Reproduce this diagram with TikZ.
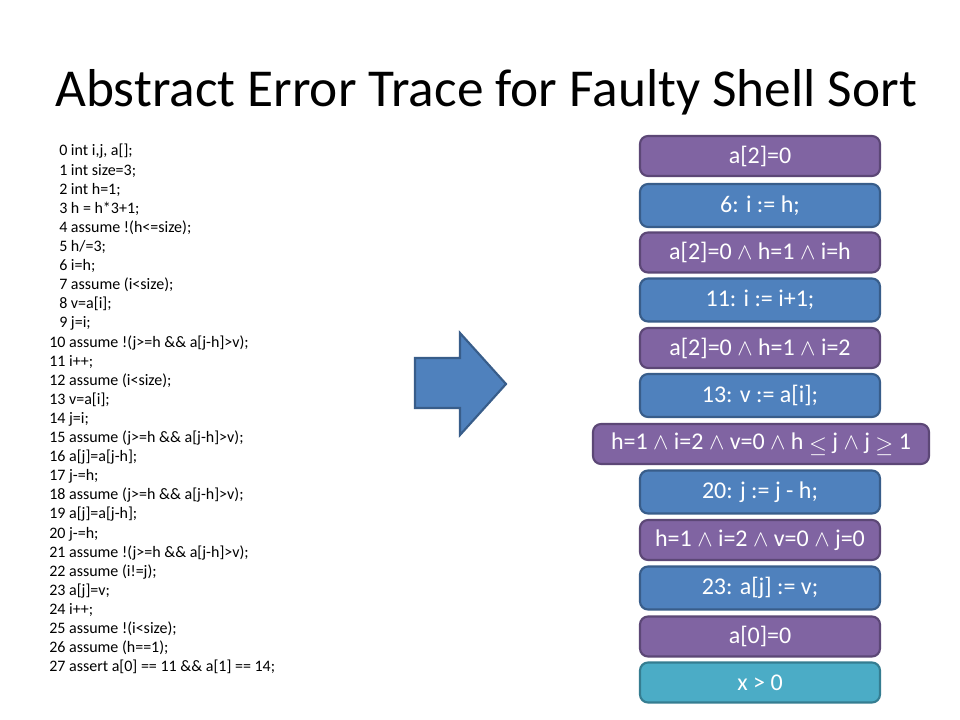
\documentclass[tikz,border=0pt]{standalone}
\usepackage{fontspec}
\setmainfont{Carlito}
\definecolor{purpleF}{HTML}{8064A2}
\definecolor{purpleD}{HTML}{5C4776}
\definecolor{blueF}{HTML}{4F81BD}
\definecolor{blueD}{HTML}{385D8A}
\definecolor{tealF}{HTML}{4BACC6}
\definecolor{tealD}{HTML}{357D91}
\newcommand{\aand}{\ensuremath{\wedge}}
\begin{document}
\begin{tikzpicture}[x=0.75pt,y=-0.75pt,
  codeline/.style={anchor=base west,inner sep=0pt,font=\fontsize{12}{14}\selectfont},
  tracebox/.style={rounded corners=6pt,line width=1.6pt,text=white,
    font=\fontsize{18}{21}\selectfont,minimum width=180pt,inner sep=0pt},
  pbox/.style={tracebox,fill=purpleF,draw=purpleD,minimum height=30pt},
  bbox/.style={tracebox,fill=blueF,draw=blueD,minimum height=32.25pt},
  tbox/.style={tracebox,fill=tealF,draw=tealD,minimum height=30pt}]
\useasboundingbox (0,0) rectangle (960,720);
\fill[white] (0,0) rectangle (960,720);
% title
\node[anchor=base west,inner sep=0pt,font=\fontsize{40}{48}\selectfont] (title) at (55,107) {Abstract Error Trace for Faulty Shell Sort};
% code
\node[codeline] (c0) at (59,156.0) {0 int i,j, a[];};
\node[codeline] (c1) at (59,175.1) {1 int size=3;};
\node[codeline] (c2) at (59,194.2) {2 int h=1;};
\node[codeline] (c3) at (59,213.3) {3 h = h*3+1;};
\node[codeline] (c4) at (59,232.4) {4 assume !(h<=size);};
\node[codeline] (c5) at (59,251.5) {5 h/=3;};
\node[codeline] (c6) at (59,270.6) {6 i=h;};
\node[codeline] (c7) at (59,289.7) {7 assume (i<size);};
\node[codeline] (c8) at (59,308.8) {8 v=a[i];};
\node[codeline] (c9) at (59,327.9) {9 j=i;};
\node[codeline] (c10) at (49,347.0) {10 assume !(j>=h \&\& a[j-h]>v);};
\node[codeline] (c11) at (49,366.1) {11 i++;};
\node[codeline] (c12) at (49,385.2) {12 assume (i<size);};
\node[codeline] (c13) at (49,404.3) {13 v=a[i];};
\node[codeline] (c14) at (49,423.4) {14 j=i;};
\node[codeline] (c15) at (49,442.5) {15 assume (j>=h \&\& a[j-h]>v);};
\node[codeline] (c16) at (49,461.6) {16 a[j]=a[j-h];};
\node[codeline] (c17) at (49,480.7) {17 j-=h;};
\node[codeline] (c18) at (49,499.8) {18 assume (j>=h \&\& a[j-h]>v);};
\node[codeline] (c19) at (49,518.9) {19 a[j]=a[j-h];};
\node[codeline] (c20) at (49,538.0) {20 j-=h;};
\node[codeline] (c21) at (49,557.1) {21 assume !(j>=h \&\& a[j-h]>v);};
\node[codeline] (c22) at (49,576.2) {22 assume (i!=j);};
\node[codeline] (c23) at (49,595.3) {23 a[j]=v;};
\node[codeline] (c24) at (49,614.4) {24 i++;};
\node[codeline] (c25) at (49,633.5) {25 assume !(i<size);};
\node[codeline] (c26) at (49,652.6) {26 assume (h==1);};
\node[codeline] (c27) at (49,671.7) {27 assert a[0] == 11 \&\& a[1] == 14;};
% block arrow
\draw[fill=blueF,draw=blueD,line width=1.6pt,line join=miter]
  (415,358) -- (460,358) -- (460,333) -- (506,384) -- (460,435) -- (460,408) -- (415,408) -- cycle;
% trace boxes
\node[pbox] (b1) at (760,156) {a[2]=0};
\node[bbox] (b2) at (760,205.5) {6: i := h;};
\node[pbox] (b3) at (760,252.5) {a[2]=0 \aand{} h=1 \aand{} i=h};
\node[bbox] (b4) at (760,300) {11: i := i+1;};
\node[pbox] (b5) at (760,348) {a[2]=0 \aand{} h=1 \aand{} i=2};
\node[bbox] (b6) at (760,395.5) {13: v := a[i];};
\node[pbox,minimum width=252pt] (b7) at (761,444) {h=1 \aand{} i=2 \aand{} v=0 \aand{} h \raisebox{-2pt}{$\leq$} j \aand{} j \raisebox{-2pt}{$\geq$} 1};
\node[bbox] (b8) at (760,492) {20: j := j - h;};
\node[pbox] (b9) at (760,540) {h=1 \aand{} i=2 \aand{} v=0 \aand{} j=0};
\node[bbox] (b10) at (760,588) {23: a[j] := v;};
\node[pbox] (b11) at (760,636.5) {a[0]=0};
\node[tbox] (b12) at (760,682.5) {x > 0};
\end{tikzpicture}
\end{document}
